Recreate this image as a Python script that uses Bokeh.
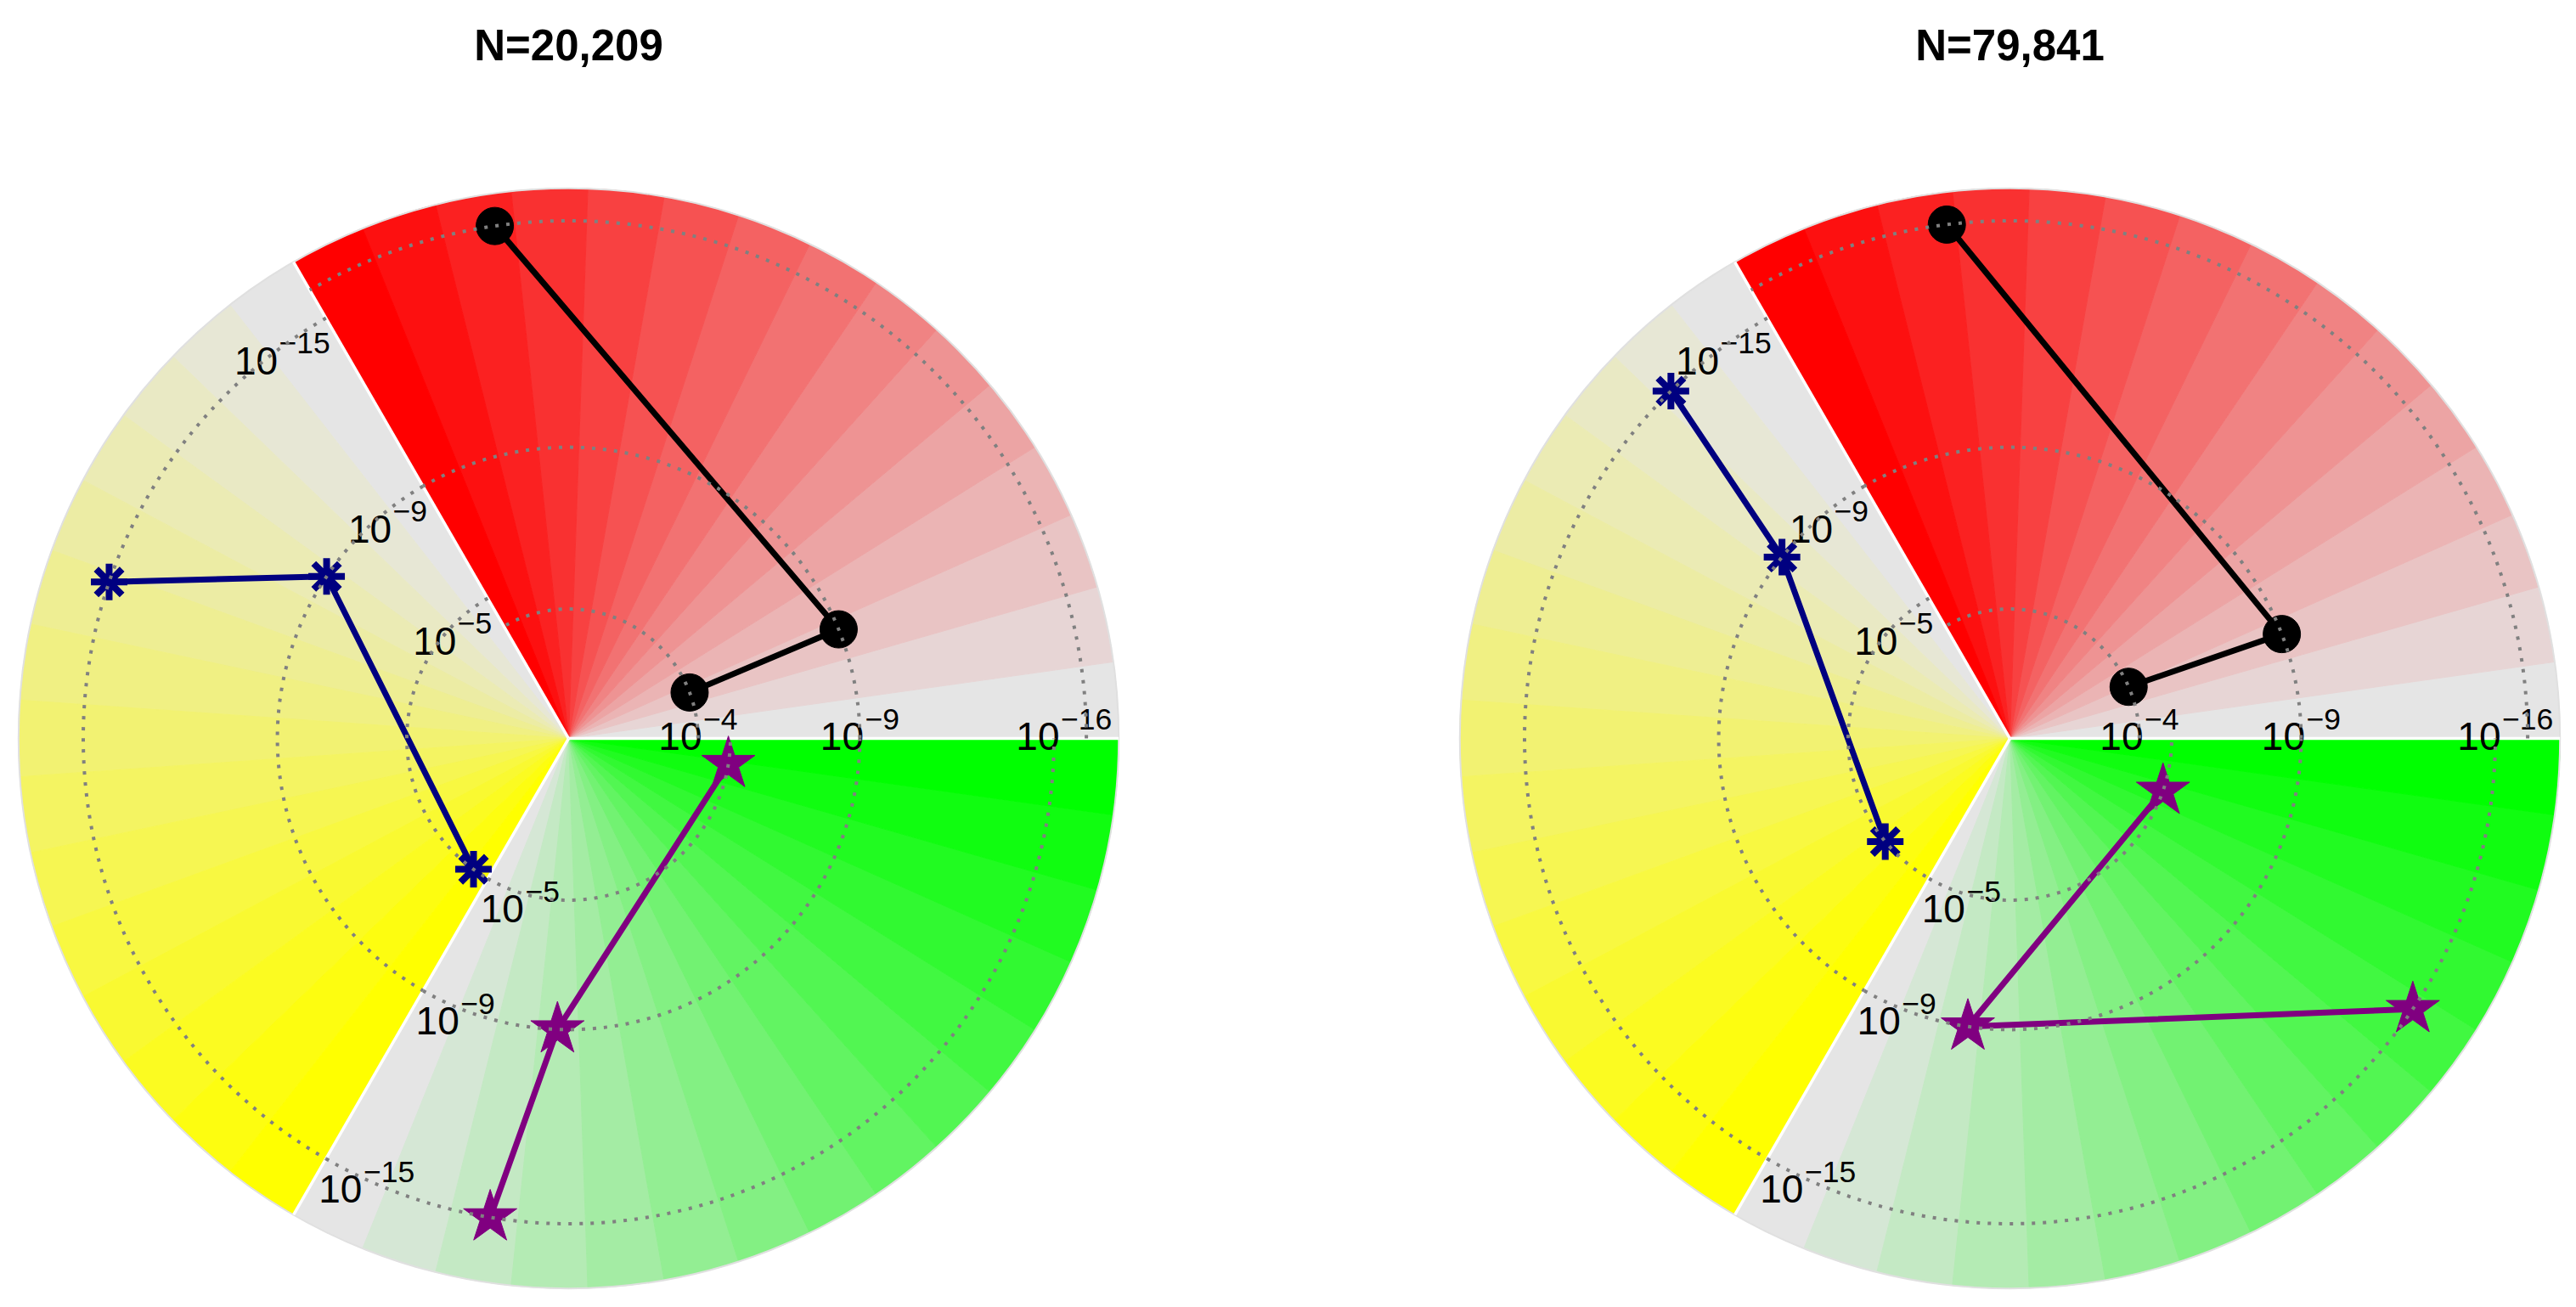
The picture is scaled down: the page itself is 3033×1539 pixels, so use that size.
import numpy as np
from bokeh.plotting import figure
from bokeh.layouts import row
from bokeh.models import Range1d
from bokeh.embed import file_html
from bokeh.resources import INLINE
from bokeh.core.properties import value

# ------------------------------------------------------------------ data
titles = ["N=20,209", "N=79,841"]

sector_names = ["red", "yellow", "green"]
sector_colors = ["#FF0000", "#FFFF00", "#00FF00"]
sector_start_deg = [0, 120, 240]
sector_span_deg = 120
n_shades = 15
fade_grey = "#E5E5E5"
r_max = 17                      # -log10(p) at the rim

# dotted reference levels (-log10 p) for each sector
red_levels = [4, 9, 16]
yellow_levels = [5, 9, 15]
green_levels = [5, 9, 15]
sector_levels = [red_levels, yellow_levels, green_levels]

# series: -log10(p) levels and angular position (degrees)
black_logp = [4, 9, 16]
navy_logp = [5, 9, 15]
purple_logp = [5, 9, 15]

left_black_deg = [20.8, 22.0, 98.2]
left_navy_deg = [234.0, 146.2, 161.2]
left_purple_deg = [350.9, 267.8, 260.7]

right_black_deg = [23.5, 21.0, 97.0]
right_navy_deg = [219.6, 141.5, 134.3]
right_purple_deg = [341.1, 261.7, 326.1]

# ------------------------------------------------------------------ layout
S = 38.1            # screen px per -log10(p) unit
W, H = 1508, 1520
CY = 869            # centre, px from top of each figure
FONT = "Liberation Sans"
FS_BASE = 46
FS_EXP = 35.5
RAISE = 20.5
PURPLE = "#800080"
D2R = np.pi / 180


def hex2rgb(h):
    h = h.lstrip("#")
    return np.array([int(h[i:i + 2], 16) for i in (0, 2, 4)], float)


def shades(c):
    g, t = hex2rgb(fade_grey), hex2rgb(c)
    out = []
    for i in range(n_shades):
        f = i / (n_shades - 1)
        v = np.round(g + (t - g) * f).astype(int)
        out.append("#%02X%02X%02X" % tuple(v))
    return out


def label_pos(sec, level):
    exp = "\u2212" + str(level)
    wb = 1.112 * FS_BASE + 1.5
    we = (0.584 + 0.556 * len(str(level))) * FS_EXP
    w = wb + we
    a = sector_start_deg[sec] * D2R
    px, py = level * S * np.cos(a), level * S * np.sin(a)
    if sec == 0:
        cx = min(px, r_max * S - w / 2 - 8)
        x0, yb = cx - w / 2, 2.3
    elif sec == 1:
        x0, yb = px + 5 - w, py - 50
    else:
        x0, yb = px - 8.5, py - 36
    return x0 / S, yb / S, (x0 + wb) / S, (yb + RAISE) / S, exp


def make_chart(cx_px, title, black_deg, navy_deg, purple_deg):
    p = figure(width=W, height=H,
               x_range=Range1d(-cx_px / S, (W - cx_px) / S),
               y_range=Range1d(-(H - CY) / S, CY / S),
               output_backend="svg", toolbar_location=None,
               x_axis_type=None, y_axis_type=None,
               min_border=0, outline_line_color=None)

    # coloured wedges
    step = sector_span_deg / n_shades
    for s, col in enumerate(sector_colors):
        cols = shades(col)
        starts = [(sector_start_deg[s] + i * step) * D2R for i in range(n_shades)]
        ends = [a + step * D2R for a in starts]
        p.wedge(x=0, y=0, radius=r_max, start_angle=starts, end_angle=ends,
                fill_color=cols, line_color=cols, line_width=1)

    p.arc(x=0, y=0, radius=r_max, start_angle=0, end_angle=2 * np.pi,
          line_color="#E0E0E0", line_width=2)

    # white separators
    a = np.array(sector_start_deg) * D2R
    p.segment(x0=[0] * 3, y0=[0] * 3, x1=list(r_max * np.cos(a)), y1=list(r_max * np.sin(a)),
              line_color="white", line_width=3.5)

    # series
    for logp, deg, col, mk, sz in [(black_logp, black_deg, "black", "circle", 44),
                                   (navy_logp, navy_deg, "#000080", "asterisk", 43),
                                   (purple_logp, purple_deg, PURPLE, "star", 66)]:
        r = np.array(logp, float)
        t = np.array(deg) * D2R
        xs, ys = list(r * np.cos(t)), list(r * np.sin(t))
        p.line(xs, ys, line_color=col, line_width=7)
        if mk == "asterisk":
            p.scatter(xs, ys, marker=mk, size=sz, line_color=col, line_width=8)
        else:
            p.scatter(xs, ys, marker=mk, size=sz, fill_color=col, line_color=col)

    # labels
    for s in range(3):
        for lev in sector_levels[s]:
            x0, yb, xe, ye, exp = label_pos(s, lev)
            p.text(x=[x0], y=[yb], text=["10"], text_font=value(FONT),
                   text_font_size=f"{FS_BASE}px", text_align="left",
                   text_baseline="alphabetic", text_color="black")
            p.text(x=[xe], y=[ye], text=[exp], text_font=value(FONT),
                   text_font_size=f"{FS_EXP}px", text_align="left",
                   text_baseline="alphabetic", text_color="black")

    # dotted reference arcs
    for s in range(3):
        a0 = sector_start_deg[s] * D2R
        p.arc(x=0, y=0, radius=sector_levels[s], start_angle=a0,
              end_angle=a0 + sector_span_deg * D2R,
              line_color="#808080", line_width=4, line_dash="4 9")

    # title
    p.text(x=[0], y=[816.3 / S], text=[title], text_font=value(FONT),
           text_font_size="51px", text_font_style="bold", text_align="center",
           text_baseline="alphabetic", text_color="black")
    return p


p1 = make_chart(669, titles[0], left_black_deg, left_navy_deg, left_purple_deg)
p2 = make_chart(858, titles[1], right_black_deg, right_navy_deg, right_purple_deg)
layout = row(p1, p2, spacing=0)

open("out.html", "w").write(file_html(layout, INLINE))
